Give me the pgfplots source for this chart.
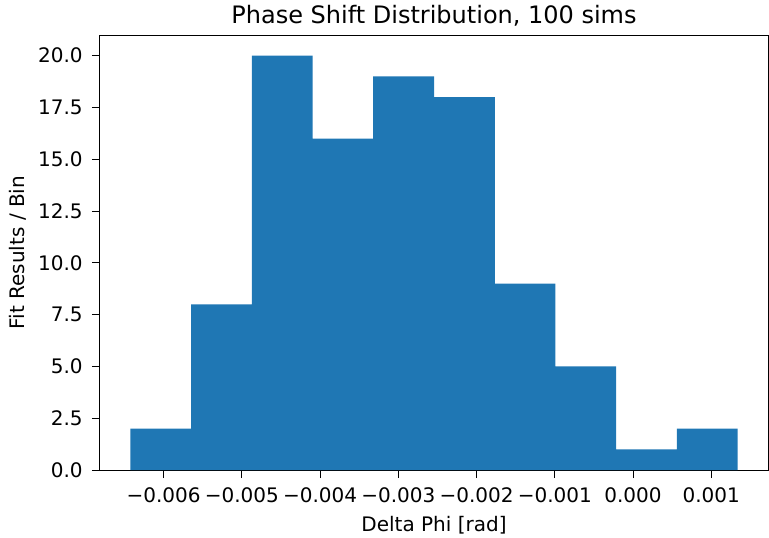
\documentclass[border=0pt]{standalone}
\usepackage{fontspec}
\setmainfont{DejaVu Sans}
\usepackage{pgfplots}
\pgfplotsset{compat=1.18}
\definecolor{tabblue}{HTML}{1F77B4}
\begin{document}
\begin{tikzpicture}
\path[use as bounding box] (-50pt,-33.5pt) rectangle (334.5pt,235pt);
\begin{axis}[
  at={(0,0)}, anchor=south west,
  scale only axis, width=334pt, height=217.5pt,
  xmin=-0.006812, xmax=0.001725,
  ymin=0, ymax=21,
  axis line style={line width=0.5pt, black},
  tick align=outside, tick pos=left,
  major tick length=4pt,
  every tick/.style={line width=0.5pt, black},
  font=\fontsize{10}{12}\selectfont,
  xtick={-0.006,-0.005,-0.004,-0.003,-0.002,-0.001,0,0.001},
  xticklabels={−0.006,−0.005,−0.004,−0.003,−0.002,−0.001,0.000,0.001},
  ytick={0,2.5,5,7.5,10,12.5,15,17.5,20},
  yticklabels={0.0,2.5,5.0,7.5,10.0,12.5,15.0,17.5,20.0},
  scaled x ticks=false,
  xticklabel style={anchor=base, yshift=-12pt, inner sep=0pt},
  yticklabel style={anchor=east, inner sep=0pt, xshift=-4.5pt},
  every axis title shift=0pt,
  title={Phase Shift Distribution, 100 sims},
  title style={at={(axis description cs:0.5,1)}, anchor=base, yshift=6pt, font=\fontsize{12}{14}\selectfont},
  xlabel={Delta Phi [rad]},
  xlabel style={at={(axis description cs:0.5,-0.1425)}, anchor=base},
  ylabel={Fit Results / Bin},
  ylabel style={at={(axis description cs:-0.1123,0.5)}, anchor=base},
]
\addplot[ybar interval, fill=tabblue, draw=none] coordinates {
  (-0.006424,2) (-0.005648,8) (-0.004872,20) (-0.004096,16) (-0.003320,19)
  (-0.002543,18) (-0.001767,9) (-0.000991,5) (-0.000215,1) (0.000561,2)
  (0.001337,2)
};
\end{axis}
\end{tikzpicture}
\end{document}
